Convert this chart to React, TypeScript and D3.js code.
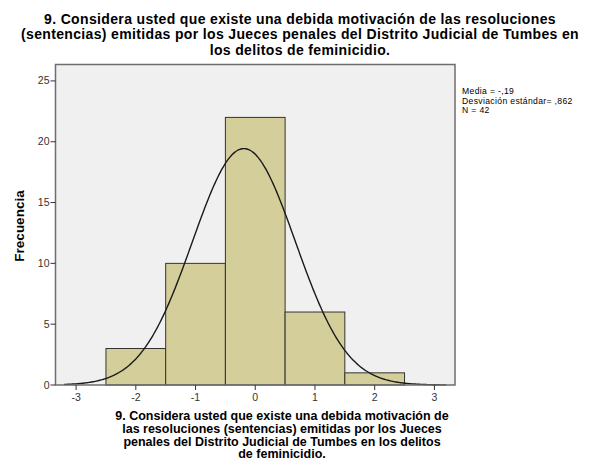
import React from "react";
import * as d3 from "d3";

const binStarts = [-2.5, -1.5, -0.5, 0.5, 1.5];
const binWidth = 1;
const counts = [3, 10, 22, 6, 1];
const xTicks = [-3, -2, -1, 0, 1, 2, 3];
const yTicks = [0, 5, 10, 15, 20, 25];
const mean = -0.19;
const sd = 0.862;
const n = 42;
const titleLines = [
  "9. Considera usted que existe una debida motivación de las resoluciones",
  "(sentencias) emitidas por los Jueces penales del Distrito Judicial de Tumbes en",
  "los delitos de feminicidio.",
];
const xTitleLines = [
  "9. Considera usted que existe una debida motivación de",
  "las resoluciones (sentencias) emitidas por los Jueces",
  "penales del Distrito Judicial de Tumbes en los delitos",
  "de feminicidio.",
];
const legendLines = ["Media = -,19", "Desviación estándar= ,862", "N = 42"];

const W = 598;
const H = 468;
const left = 55.5;
const right = 455;
const top = 64.5;
const bottom = 385;
const FONT = "Arial, 'Liberation Sans', sans-serif";

export default function App() {
  const x = d3.scaleLinear().domain([-3.345, 3.345]).range([left, right]);
  const y = d3.scaleLinear().domain([0, 26.35]).range([bottom, top]);

  const pdf = (v: number) =>
    (n * binWidth * Math.exp(-0.5 * ((v - mean) / sd) ** 2)) / (sd * Math.sqrt(2 * Math.PI));
  const pts = d3.range(-3.2, 3.2001, 0.02).map((v) => [v, pdf(v)] as [number, number]);
  const line = d3
    .line<[number, number]>()
    .x((d) => x(d[0]))
    .y((d) => y(d[1]))
    .curve(d3.curveBasis);

  return (
    <svg
      width={W}
      height={H}
      style={{ position: "absolute", left: 0, top: 0, background: "#fff" }}
      fontFamily={FONT}
    >
      {titleLines.map((t, i) => (
        <text
          key={i}
          x={300}
          y={23.5 + i * 15.5}
          textAnchor="middle"
          fontSize={14}
          letterSpacing={0.35}
          fontWeight="bold"
          fill="#000"
        >
          {t}
        </text>
      ))}
      <rect x={left} y={top} width={right - left} height={bottom - top} fill="#F0F0F0" />
      {counts.map((c, i) => (
        <rect
          key={i}
          x={x(binStarts[i])}
          y={y(c)}
          width={x(binStarts[i] + binWidth) - x(binStarts[i])}
          height={y(0) - y(c)}
          fill="#D4CF9A"
          stroke="#333"
          strokeWidth={1}
        />
      ))}
      <path d={line(pts) || ""} fill="none" stroke="#1a1a1a" strokeWidth={1.4} />
      <rect
        x={left}
        y={top}
        width={right - left}
        height={bottom - top}
        fill="none"
        stroke="#6e6e6e"
        strokeWidth={1.5}
      />
      {yTicks.map((t) => (
        <g key={t}>
          <line x1={left - 5} x2={left} y1={y(t)} y2={y(t)} stroke="#333" />
          <text x={left - 6} y={y(t) + 3.5} textAnchor="end" fontSize={10.5} fill="#333">
            {t}
          </text>
        </g>
      ))}
      {xTicks.map((t) => (
        <g key={t}>
          <line x1={x(t)} x2={x(t)} y1={bottom} y2={bottom + 5} stroke="#333" />
          <text x={x(t)} y={bottom + 16} textAnchor="middle" fontSize={10.5} fill="#333">
            {t}
          </text>
        </g>
      ))}
      <text
        transform={`translate(${24},${226}) rotate(-90)`}
        textAnchor="middle"
        fontSize={13.5}
        fontWeight="bold"
        fill="#000"
      >
        Frecuencia
      </text>
      {xTitleLines.map((t, i) => (
        <text
          key={i}
          x={282}
          y={420 + i * 12.8}
          textAnchor="middle"
          fontSize={12.5}
          fontWeight="bold"
          fill="#000"
        >
          {t}
        </text>
      ))}
      {legendLines.map((t, i) => (
        <text key={i} x={462} y={94 + i * 9.6} fontSize={8.6} letterSpacing={0.35} fill="#000">
          {t}
        </text>
      ))}
    </svg>
  );
}
